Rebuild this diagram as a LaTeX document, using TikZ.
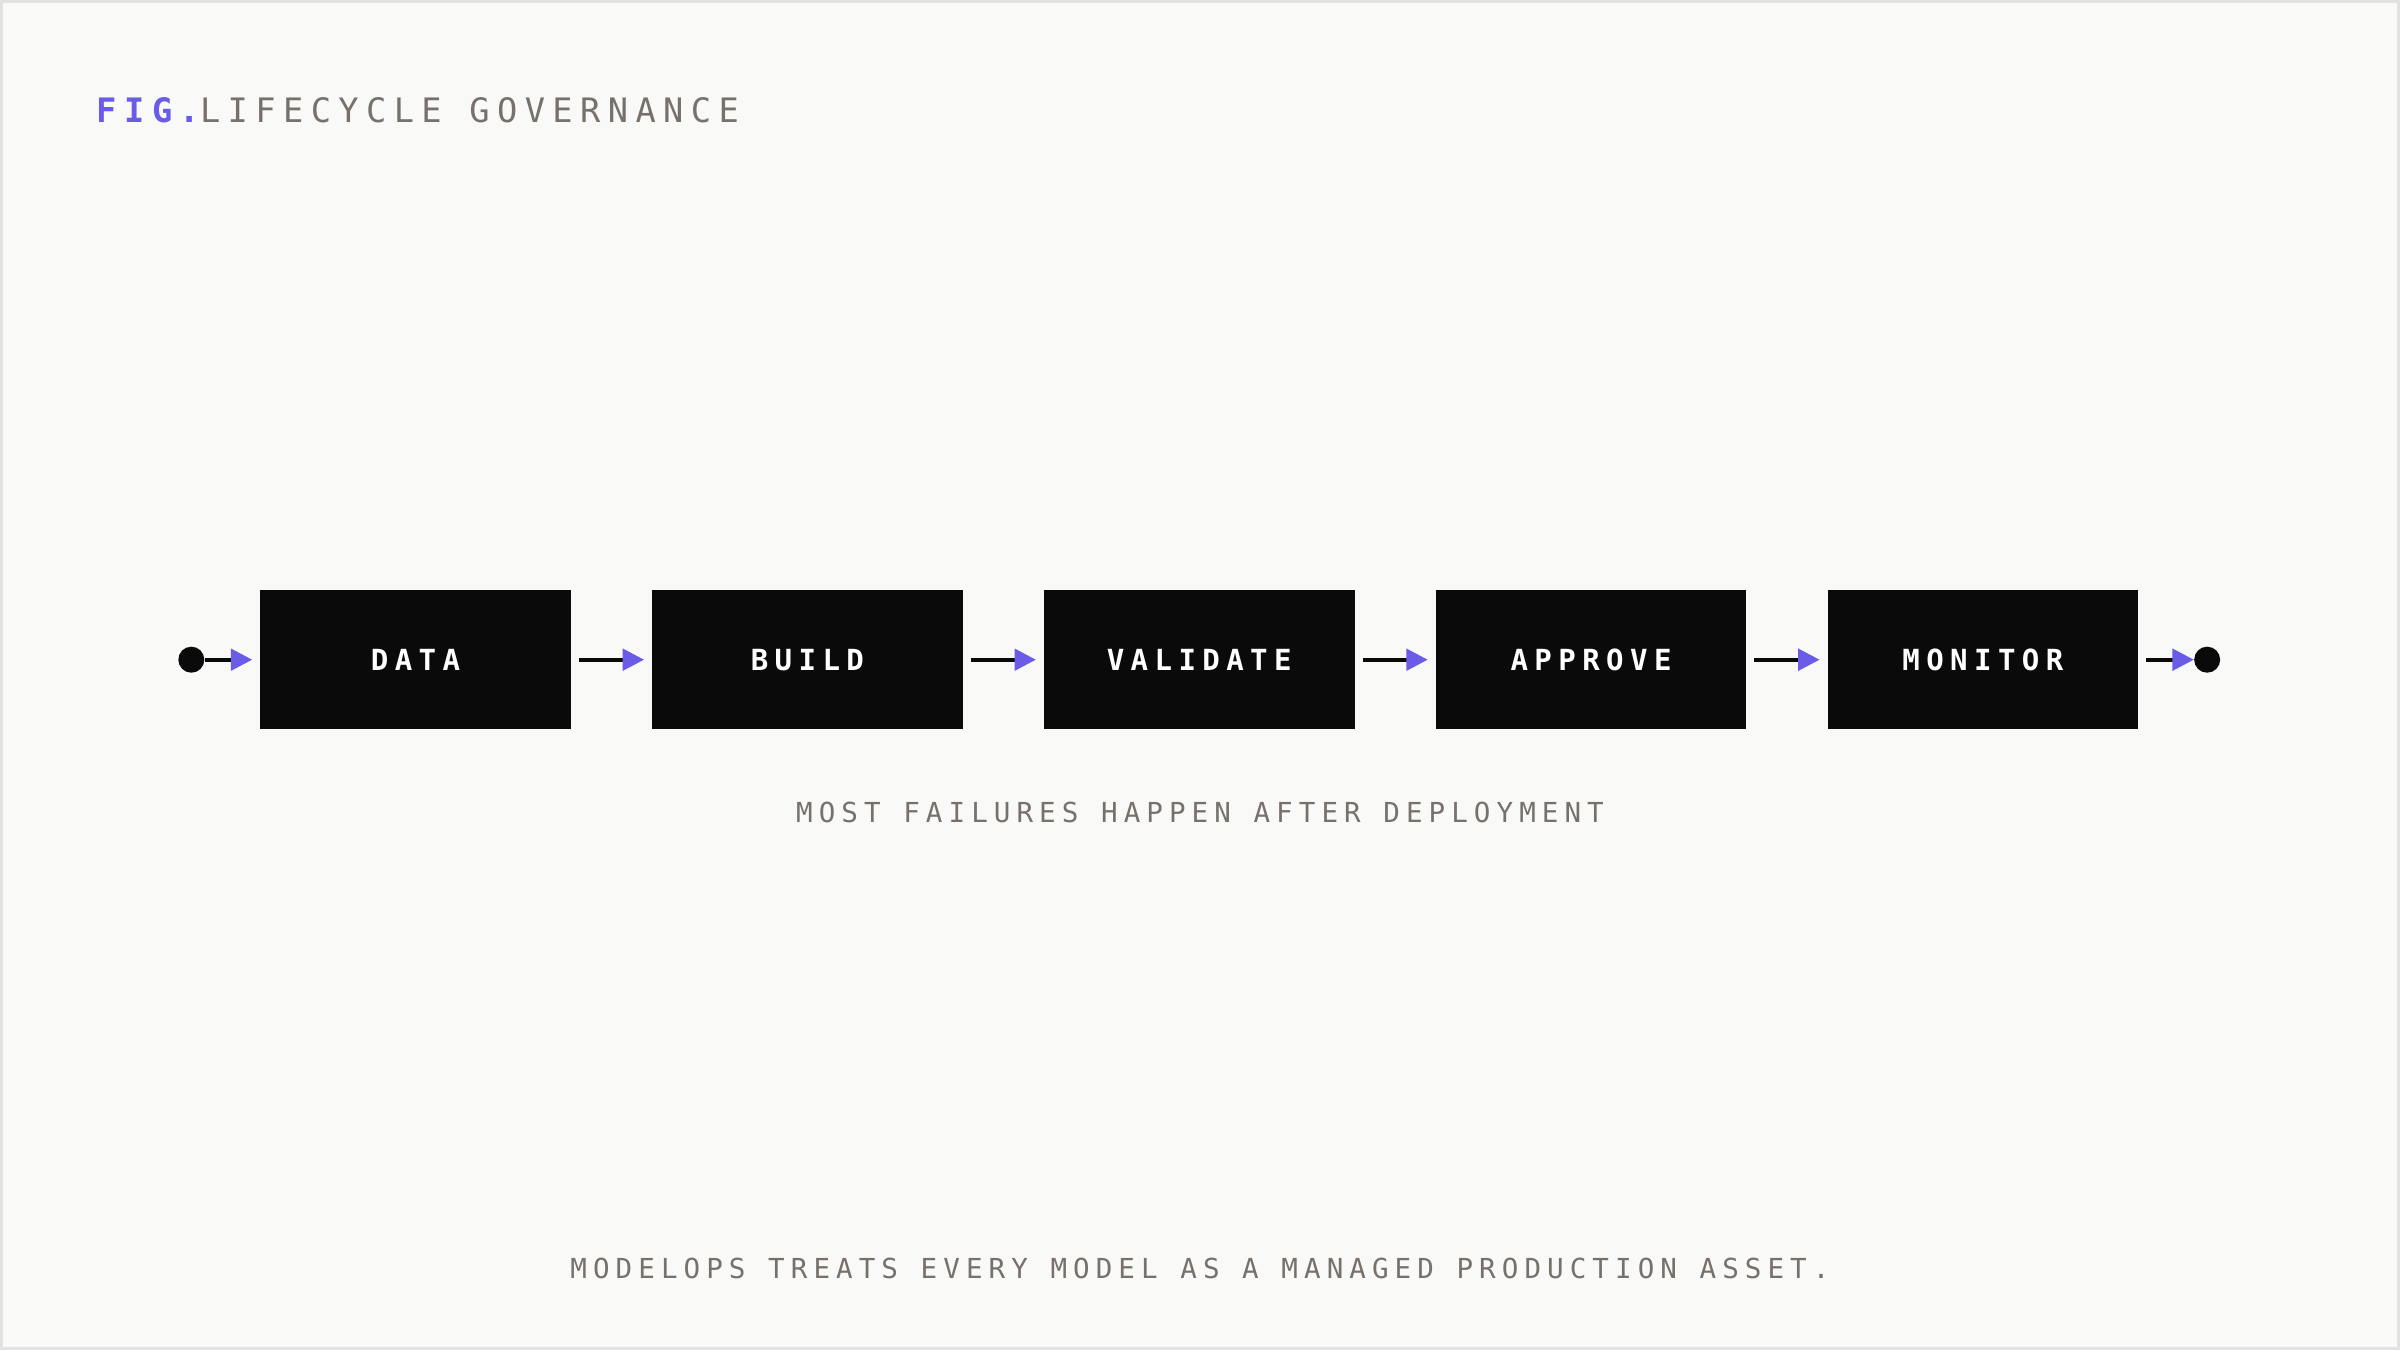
\documentclass[tikz,border=0pt]{standalone}
\usepackage{fontspec}
\setmonofont{DejaVu Sans Mono}
\newfontfamily\titlefont[LetterSpace=22]{DejaVu Sans Mono}
\newfontfamily\boxfont[LetterSpace=22]{DejaVu Sans Mono}
\newfontfamily\capfont[LetterSpace=22]{DejaVu Sans Mono}
\usetikzlibrary{arrows.meta}
\definecolor{bg}{HTML}{F9F9F7}
\definecolor{frame}{HTML}{E2E2E0}
\definecolor{accent}{HTML}{6B5CE7}
\definecolor{ink}{HTML}{0A0A0A}
\definecolor{muted}{HTML}{77716C}
\begin{document}
\begin{tikzpicture}[x=1pt,y=-1pt,
  stage/.style={fill=ink,draw=none,minimum width=203pt,minimum height=91pt,inner sep=0pt,text=white,font=\boxfont\bfseries\fontsize{19}{22}\selectfont},
  flow/.style={draw=ink,line width=2.5pt,-{Triangle[length=14pt,width=14pt,color=accent,fill=accent]},shorten <=5pt,shorten >=5pt},
  dot/.style={circle,fill=ink,minimum size=17pt,inner sep=0pt},
  caption/.style={text=muted,font=\capfont\fontsize{18}{22}\selectfont,inner sep=0pt}]
\path[fill=bg,draw=frame,line width=2pt] (1,1) rectangle (1567,881);
\useasboundingbox (0,0) rectangle (1568,882);
\node[anchor=base west,inner sep=0pt,font=\titlefont\fontsize{22}{26}\selectfont] (title) at (63,80)
  {\textcolor{accent}{\bfseries FIG.}\textcolor{muted}{ LIFECYCLE GOVERNANCE}};
\node[dot] (start) at (125,431) {};
\node[stage] (s1) at (271.5,431) {DATA};
\node[stage] (s2) at (527.5,431) {BUILD};
\node[stage] (s3) at (783.5,431) {VALIDATE};
\node[stage] (s4) at (1039.5,431) {APPROVE};
\node[stage] (s5) at (1295.5,431) {MONITOR};
\node[dot] (end) at (1442,431) {};
\draw[flow,shorten <=0pt,shorten >=5pt] (start) -- (s1);
\draw[flow] (s1) -- (s2);
\draw[flow] (s2) -- (s3);
\draw[flow] (s3) -- (s4);
\draw[flow] (s4) -- (s5);
\draw[flow,shorten >=0pt] (s5) -- (end);
\node[caption] (note) at (784,531) {MOST FAILURES HAPPEN AFTER DEPLOYMENT};
\node[caption] (foot) at (784,829) {MODELOPS TREATS EVERY MODEL AS A MANAGED PRODUCTION ASSET.};
\end{tikzpicture}
\end{document}
